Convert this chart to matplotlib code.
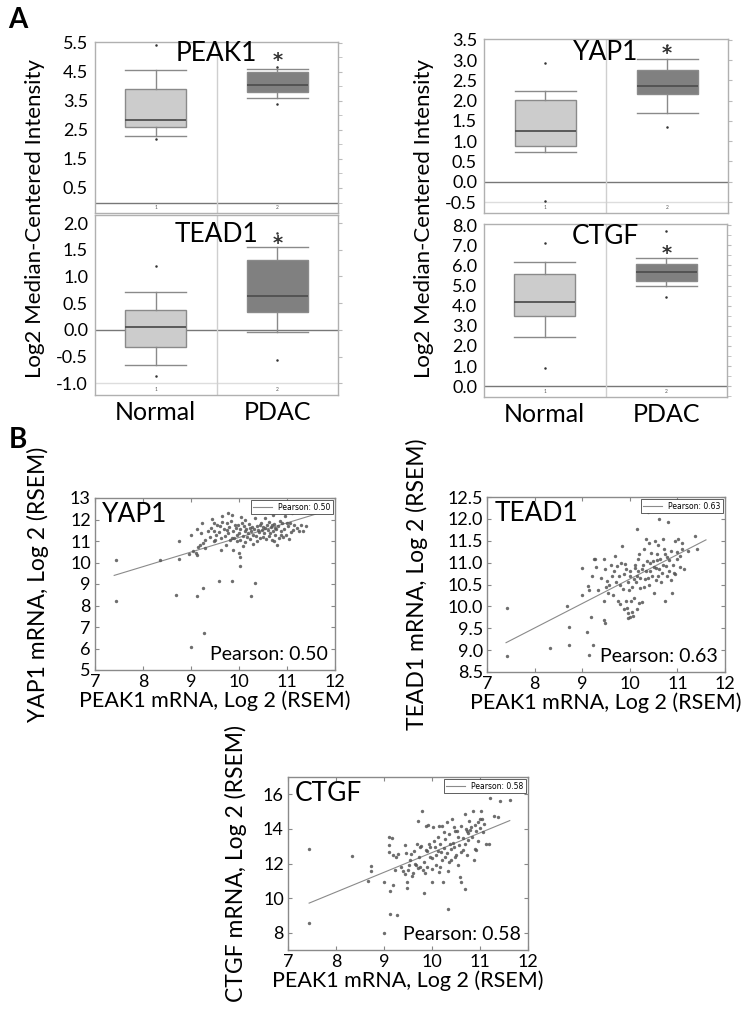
import matplotlib
matplotlib.use("Agg")
import matplotlib.pyplot as plt
from matplotlib.ticker import MultipleLocator, FormatStrFormatter
import matplotlib.transforms as mtrans

plt.rcParams["font.family"] = ["Lato", "DejaVu Sans"]
plt.rcParams["axes.unicode_minus"] = False

# ---------------- Panel A: box plot values (whislo, q1, med, q3, whishi) ----------------
groups = ["Normal", "PDAC"]

peak1_normal = [2.28, 2.59, 2.85, 3.89, 4.54]
peak1_normal_out = [5.40, 2.17]
peak1_pdac = [3.59, 3.80, 4.03, 4.48, 4.60]
peak1_pdac_out = [3.40, 4.65]

tead1_normal = [-0.65, -0.33, 0.06, 0.38, 0.70]
tead1_normal_out = [1.20, -0.86]
tead1_pdac = [-0.04, 0.34, 0.64, 1.31, 1.55]
tead1_pdac_out = [1.82, -0.56]

yap1_normal = [0.74, 0.89, 1.25, 2.02, 2.23]
yap1_normal_out = [2.92, -0.47]
yap1_pdac = [1.69, 2.17, 2.35, 2.76, 3.02]
yap1_pdac_out = [1.34, 3.38]

ctgf_normal = [2.42, 3.51, 4.20, 5.56, 6.15]
ctgf_normal_out = [7.14, 0.89]
ctgf_pdac = [4.99, 5.24, 5.69, 6.05, 6.37]
ctgf_pdac_out = [7.72, 4.41]

# y value of the significance star above PDAC
star_y = {"PEAK1": 4.98, "TEAD1": 1.66, "YAP1": 3.22, "CTGF": 6.75}

# ---------------- Panel B: scatter values (PEAK1 vs gene, log2 RSEM) ----------------
yap1_x = [7.44, 7.44, 8.35, 8.74, 8.74, 8.69, 9.01, 9.28, 9.13, 9.24, 9.59, 9.86, 10.24, 10.33,
          10.02, 10.02, 10.00, 9.00, 9.12, 9.22, 9.14, 9.19, 9.29, 9.12, 9.10,
          9.44, 9.47, 9.47, 9.47, 9.53, 9.63, 9.60, 9.74, 9.77, 9.85, 9.88, 9.92, 9.95, 10.02,
          10.06, 10.09, 10.12, 10.16, 10.23, 10.30, 10.33, 10.37, 10.40, 10.44, 10.51, 10.55,
          10.62, 10.65, 10.69, 10.72, 10.76, 10.80, 10.87, 10.90, 10.92, 10.96, 11.03, 11.06,
          11.13, 11.24, 11.34, 11.40, 11.10,
          9.40, 9.42, 9.50, 9.55, 9.58, 9.62, 9.65, 9.68, 9.70, 9.72, 9.75, 9.78, 9.80, 9.82,
          9.84, 9.88, 9.90, 9.93, 9.96, 9.98, 10.00, 10.03, 10.05, 10.08, 10.10, 10.13, 10.15,
          10.18, 10.20, 10.22, 10.25, 10.27, 10.29, 10.32, 10.35, 10.38, 10.41, 10.43, 10.46,
          10.48, 10.50, 10.53, 10.56, 10.58, 10.60, 10.63, 10.66, 10.68, 10.70, 10.73, 10.75,
          10.78, 10.82, 10.84, 10.86, 10.88, 10.94, 10.98, 11.00, 11.05, 11.08, 11.15, 11.20,
          11.30, 9.35, 9.30, 9.25, 9.20, 9.05, 8.95, 9.65, 9.85, 10.12, 10.55, 10.70]
yap1_y = [10.13, 8.19, 10.13, 10.16, 10.98, 8.47, 6.09, 6.74, 8.42, 8.80, 9.12, 9.15, 8.45, 9.04,
          9.86, 10.25, 10.44, 11.26, 11.56, 11.84, 10.72, 10.83, 10.67, 10.36, 10.44,
          12.02, 11.84, 11.45, 10.98, 11.30, 10.60, 11.68, 11.52, 12.30, 11.14, 10.60, 11.74,
          11.30, 11.06, 11.84, 10.75, 11.45, 11.20, 11.60, 11.30, 12.07, 10.98, 11.52, 11.75,
          11.20, 11.60, 11.90, 11.37, 11.75, 10.98, 11.60, 10.83, 11.30, 11.84, 11.20, 12.15,
          11.68, 11.84, 11.52, 11.45, 11.45, 11.68, 12.30,
          11.20, 11.60, 11.05, 11.75, 11.40, 11.15, 11.90, 11.55, 11.25, 10.80, 11.85, 11.35,
          11.65, 11.05, 11.95, 11.45, 11.15, 11.60, 11.00, 11.75, 11.35, 11.55, 12.10, 11.25,
          11.70, 10.95, 11.55, 11.35, 11.80, 11.10, 11.45, 11.65, 10.85, 11.55, 11.25, 11.70,
          11.40, 11.15, 11.85, 11.50, 11.65, 11.35, 11.10, 11.75, 11.50, 11.25, 11.65, 11.05,
          11.45, 11.80, 11.30, 11.55, 11.70, 11.15, 11.95, 11.45, 11.55, 11.30, 11.85, 11.10,
          11.40, 11.75, 11.60, 11.75, 11.45, 11.05, 10.90, 11.35, 10.55, 10.40, 12.15, 12.20,
          12.00, 12.05, 12.20]
yap1_fit_x = [7.40, 11.60]
yap1_fit_y = [9.40, 12.25]

tead1_x = [7.42, 7.42, 8.33, 8.68, 8.73, 8.73, 8.99, 8.99, 9.10, 9.13, 9.15, 9.15, 9.18, 9.22,
           9.20, 9.24, 9.27, 9.34, 9.45, 9.48, 9.45, 9.45, 9.48, 9.52, 9.55, 9.57, 9.62, 9.66,
           9.68, 9.73, 9.75, 9.80, 9.82, 9.83, 9.87, 9.90, 9.92, 9.94, 9.96, 9.97, 9.99, 10.01,
           10.03, 10.04, 10.06, 10.08, 10.11, 10.15, 10.15, 10.18, 10.20, 10.22, 10.25, 10.29,
           10.31, 10.34, 10.36, 10.39, 10.41, 10.43, 10.45, 10.48, 10.50, 10.52, 10.55, 10.57,
           10.60, 10.62, 10.64, 10.67, 10.69, 10.72, 10.74, 10.76, 10.78, 10.81, 10.83, 10.86,
           10.88, 10.92, 10.95, 10.99, 11.02, 11.06, 11.09, 11.13, 11.23, 11.36, 11.41,
           9.70, 9.78, 9.85, 9.92, 9.96, 10.00, 10.05, 10.10, 10.13, 10.17, 10.22, 10.27, 10.30,
           10.34, 10.38, 10.42, 10.46, 10.50, 10.54, 10.58, 10.62, 10.66, 10.70, 10.74, 10.78,
           10.82, 10.86, 10.90, 10.95, 11.00, 11.05, 11.10, 10.40, 10.60, 10.20, 9.60, 9.65,
           9.50, 9.40, 9.30, 9.80, 9.88, 10.00, 10.08, 10.16, 10.26]
tead1_y = [9.96, 8.87, 9.05, 10.00, 9.54, 9.12, 10.88, 10.27, 9.42, 10.46, 10.38, 8.88, 9.75, 9.12,
           10.69, 11.09, 11.08, 10.38, 11.09, 10.85, 10.12, 9.69, 9.62, 10.58, 10.31, 10.50, 10.69,
           10.81, 11.15, 10.92, 10.12, 10.50, 11.00, 11.38, 10.73, 10.96, 10.12, 9.96, 9.85, 9.73,
           10.38, 10.81, 10.12, 9.88, 9.77, 10.62, 10.88, 11.77, 10.69, 11.08, 10.08, 10.42, 10.85,
           11.31, 10.62, 11.54, 11.04, 12.15, 10.50, 10.81, 11.23, 11.04, 10.31, 11.50, 10.88,
           11.19, 10.69, 12.00, 11.08, 10.77, 11.54, 11.31, 10.12, 10.92, 11.12, 11.92, 10.81,
           11.27, 10.31, 10.77, 11.50, 11.08, 11.54, 11.15, 11.31, 10.85, 11.27, 11.62, 11.31,
           10.55, 10.70, 10.40, 10.85, 10.55, 10.70, 10.45, 10.95, 10.55, 10.80, 10.65, 10.95,
           10.45, 10.80, 10.65, 11.00, 10.70, 10.90, 10.60, 11.05, 10.85, 10.55, 10.95, 11.20,
           10.70, 11.05, 10.60, 10.95, 10.75, 11.25, 10.90, 11.45, 11.45, 11.40, 11.20, 10.95,
           10.25, 10.45, 10.65, 10.90, 10.05, 9.95, 9.75, 10.20, 9.95, 10.10]
tead1_fit_x = [7.40, 11.60]
tead1_fit_y = [9.17, 11.52]

ctgf_x = [7.43, 7.43, 8.34, 8.72, 8.72, 8.67, 8.99, 9.01, 9.10, 9.17, 9.10, 9.10, 9.12, 9.12,
          9.19, 9.19, 9.22, 9.27, 9.29, 9.43, 9.44, 9.47, 9.48, 9.50, 9.53, 9.57, 9.60, 9.64,
          9.69, 9.71, 9.74, 9.76, 9.80, 9.81, 9.83, 9.87, 9.88, 9.90, 9.94, 9.95, 9.99, 10.01,
          10.02, 10.06, 10.09, 10.13, 10.15, 10.17, 10.19, 10.23, 10.26, 10.28, 10.31, 10.33,
          10.33, 10.37, 10.40, 10.42, 10.45, 10.47, 10.51, 10.54, 10.58, 10.60, 10.61, 10.65,
          10.68, 10.69, 10.72, 10.75, 10.78, 10.82, 10.85, 10.88, 10.89, 10.92, 10.96, 11.00,
          11.03, 11.06, 11.12, 11.20, 11.38, 11.41, 11.62,
          9.55, 9.62, 9.66, 9.72, 9.78, 9.84, 9.90, 9.96, 10.00, 10.04, 10.08, 10.12, 10.16,
          10.20, 10.24, 10.28, 10.32, 10.36, 10.40, 10.44, 10.48, 10.52, 10.56, 10.60, 10.64,
          10.68, 10.72, 10.76, 10.80, 10.84, 10.90, 10.95, 11.00, 11.05, 11.08, 9.45, 9.35,
          9.25, 9.40, 9.58, 9.70, 9.85, 10.15, 10.35, 10.55, 10.92, 11.18, 11.30, 10.70, 10.45,
          10.20, 9.92]
ctgf_y = [12.86, 8.57, 12.42, 11.85, 11.58, 11.00, 10.95, 7.96, 13.52, 13.49, 13.05, 12.67, 10.42,
          9.09, 10.76, 12.48, 11.62, 9.05, 12.53, 13.05, 11.39, 10.95, 10.57, 11.62, 11.90, 12.57,
          11.43, 12.00, 13.14, 14.48, 12.95, 11.77, 15.05, 11.62, 10.29, 12.76, 14.19, 11.77,
          13.14, 12.38, 11.71, 10.95, 14.10, 12.95, 12.48, 13.52, 14.19, 11.81, 12.67, 10.95,
          13.81, 12.38, 14.38, 11.58, 9.37, 13.14, 12.19, 14.57, 12.95, 13.90, 12.48, 13.52,
          11.24, 10.95, 14.19, 12.76, 14.86, 10.51, 13.90, 13.33, 14.48, 14.10, 15.05, 12.19,
          12.86, 13.90, 14.38, 14.57, 15.05, 13.81, 13.10, 15.81, 14.67, 15.62, 15.66,
          12.20, 12.75, 11.90, 12.40, 13.00, 12.10, 12.70, 12.95, 12.30, 13.30, 11.90, 12.75,
          13.10, 12.20, 12.90, 13.40, 12.60, 13.70, 12.85, 13.20, 12.40, 13.85, 13.05, 12.65,
          13.45, 13.15, 12.50, 13.75, 13.95, 13.55, 14.25, 13.30, 14.05, 14.55, 14.30, 12.60,
          11.80, 12.40, 11.55, 11.30, 11.75, 11.45, 11.50, 12.10, 11.90, 12.80, 13.10, 14.75,
          14.00, 14.10, 14.15, 14.20]
ctgf_fit_x = [7.44, 11.62]
ctgf_fit_y = [9.71, 14.48]

pearson = {"YAP1": "0.50", "TEAD1": "0.63", "CTGF": "0.58"}

W, H = 743, 1018
fig = plt.figure(figsize=(W / 100, H / 100), dpi=100)


def px_axes(x0, y0, x1, y1):
    # pixel box (top-left origin) -> figure axes
    return fig.add_axes([x0 / W, 1 - y1 / H, (x1 - x0) / W, (y1 - y0) / H])


def box_panel(ax, gene, normal, normal_out, pdac, pdac_out, ylim, ystep, grid_low, gene_y):
    stats = []
    for vals, outs, lab in [(normal, normal_out, "1"), (pdac, pdac_out, "2")]:
        stats.append(dict(whislo=vals[0], q1=vals[1], med=vals[2], q3=vals[3],
                          whishi=vals[4], fliers=outs, label=lab))
    parts = ax.bxp(stats, positions=[1, 2], widths=0.5, capwidths=0.5, patch_artist=True,
                   boxprops=dict(edgecolor="#8a8a8a", linewidth=1),
                   medianprops=dict(color="#505050", linewidth=1.3),
                   whiskerprops=dict(color="#8a8a8a", linewidth=1),
                   capprops=dict(color="#8a8a8a", linewidth=1),
                   flierprops=dict(marker="o", markersize=1.8, markerfacecolor="#333333",
                                   markeredgecolor="none"))
    parts["boxes"][0].set_facecolor("#cccccc")
    parts["boxes"][1].set_facecolor("#808080")
    ax.set_xlim(0.5, 2.5)
    ax.set_ylim(*ylim)
    ax.axhline(0, color="#777777", lw=1, zorder=0)
    if grid_low is not None:
        ax.axhline(grid_low, color="#dddddd", lw=1, zorder=0)
    ax.axvline(1.5, color="#cfcfcf", lw=1, zorder=0)
    ax.set_xticks([])
    tr = mtrans.blended_transform_factory(ax.transData, ax.transAxes)
    for xp, lab in zip([1, 2], ["1", "2"]):
        ax.text(xp, 0.03, lab, transform=tr, ha="center", va="center", fontsize=3.5,
                color="#555555")
    ax.yaxis.set_major_locator(MultipleLocator(ystep))
    ax.yaxis.set_minor_locator(MultipleLocator(0.5))
    ax.yaxis.set_major_formatter(FormatStrFormatter("%.1f"))
    ax.tick_params(axis="y", which="both", left=False, right=True, direction="out",
                   length=3, color="#bbbbbb", labelsize=13, pad=2)
    for s in ax.spines.values():
        s.set_color("#b0b0b0")
        s.set_linewidth(1)
    ax.text(1.5, gene_y, gene, transform=tr, ha="center", va="center", fontsize=19)
    ax.annotate("*", (2, star_y[gene]), xytext=(0, -2), textcoords="offset points",
                ha="center", va="center", fontsize=14, fontweight="bold",
                family="DejaVu Sans", color="#333333")


# panel A
ax1 = px_axes(95, 42, 338, 213)
box_panel(ax1, "PEAK1", peak1_normal, peak1_normal_out, peak1_pdac, peak1_pdac_out,
          (-0.36, 5.52), 1.0, None, 0.935)
ax1.set_yticks([0.5, 1.5, 2.5, 3.5, 4.5, 5.5])

ax2 = px_axes(95, 215, 338, 395)
box_panel(ax2, "TEAD1", tead1_normal, tead1_normal_out, tead1_pdac, tead1_pdac_out,
          (-1.22, 2.15), 0.5, -1.0, 0.89)

ax3 = px_axes(484, 39, 728, 213)
box_panel(ax3, "YAP1", yap1_normal, yap1_normal_out, yap1_pdac, yap1_pdac_out,
          (-0.77, 3.52), 0.5, -0.5, 0.92)

ax4 = px_axes(484, 224, 727, 397)
box_panel(ax4, "CTGF", ctgf_normal, ctgf_normal_out, ctgf_pdac, ctgf_pdac_out,
          (-0.54, 8.06), 1.0, None, 0.93)

for ax in (ax2, ax4):
    tr = mtrans.blended_transform_factory(ax.transData, ax.transAxes)
    for xp, g in zip([1, 2], groups):
        ax.text(xp, -0.1, g, transform=tr, ha="center", va="center", fontsize=18)

fig.text(35 / W, 1 - 219 / H, "Log2 Median-Centered Intensity", rotation=90,
         ha="center", va="center", fontsize=16)
fig.text(424 / W, 1 - 219 / H, "Log2 Median-Centered Intensity", rotation=90,
         ha="center", va="center", fontsize=16)

fig.text(18 / W, 1 - 20 / H, "A", fontsize=20, fontweight="bold", ha="center", va="center")
fig.text(18 / W, 1 - 440 / H, "B", fontsize=20, fontweight="bold", ha="center", va="center")


def scatter_panel(ax, gene, xs, ys, fx, fy, ylim, yticks, ylab_x):
    ax.scatter(xs, ys, s=6, color="#555555", alpha=0.85, linewidths=0, zorder=2)
    ax.plot(fx, fy, color="#8a8a8a", lw=0.8, label="Pearson: " + pearson[gene], zorder=1)
    leg = ax.legend(loc="upper right", prop={"family": "DejaVu Sans", "size": 5.5},
                    handlelength=2.5, borderpad=0.3, borderaxespad=0.3, fancybox=False,
                    framealpha=1)
    leg.get_frame().set_edgecolor("#444444")
    leg.get_frame().set_linewidth(0.6)
    ax.set_xlim(7, 12)
    ax.set_ylim(*ylim)
    ax.set_xticks([7, 8, 9, 10, 11, 12])
    ax.set_yticks(yticks)
    ax.tick_params(which="both", direction="in", top=True, right=True, length=3,
                   color="#888888", labelsize=13, pad=3)
    for s in ax.spines.values():
        s.set_color("#8a8a8a")
        s.set_linewidth(1)
    ax.text(0.03, 0.975, gene, transform=ax.transAxes, ha="left", va="top", fontsize=19)
    ax.text(0.97, 0.04, "Pearson: " + pearson[gene], transform=ax.transAxes, ha="right",
            va="bottom", fontsize=14)
    ax.set_xlabel("PEAK1 mRNA, Log 2 (RSEM)", fontsize=15.5, labelpad=0)
    ax.set_ylabel(gene + " mRNA, Log 2 (RSEM)", fontsize=16.5)
    ax.yaxis.set_label_coords(ylab_x, 0.5)


# panel B
ax5 = px_axes(95, 498, 335, 670)
scatter_panel(ax5, "YAP1", yap1_x, yap1_y, yap1_fit_x, yap1_fit_y, (5, 13),
              list(range(5, 14)), -0.19)

ax6 = px_axes(487, 497, 725, 672)
scatter_panel(ax6, "TEAD1", tead1_x, tead1_y, tead1_fit_x, tead1_fit_y, (8.5, 12.5),
              [8.5, 9.0, 9.5, 10.0, 10.5, 11.0, 11.5, 12.0, 12.5], -0.25)
ax6.yaxis.set_major_formatter(FormatStrFormatter("%.1f"))

ax7 = px_axes(288, 777, 528, 950)
scatter_panel(ax7, "CTGF", ctgf_x, ctgf_y, ctgf_fit_x, ctgf_fit_y, (7, 17),
              [8, 10, 12, 14, 16], -0.17)

fig.savefig("out.png", dpi=100, facecolor="white")
